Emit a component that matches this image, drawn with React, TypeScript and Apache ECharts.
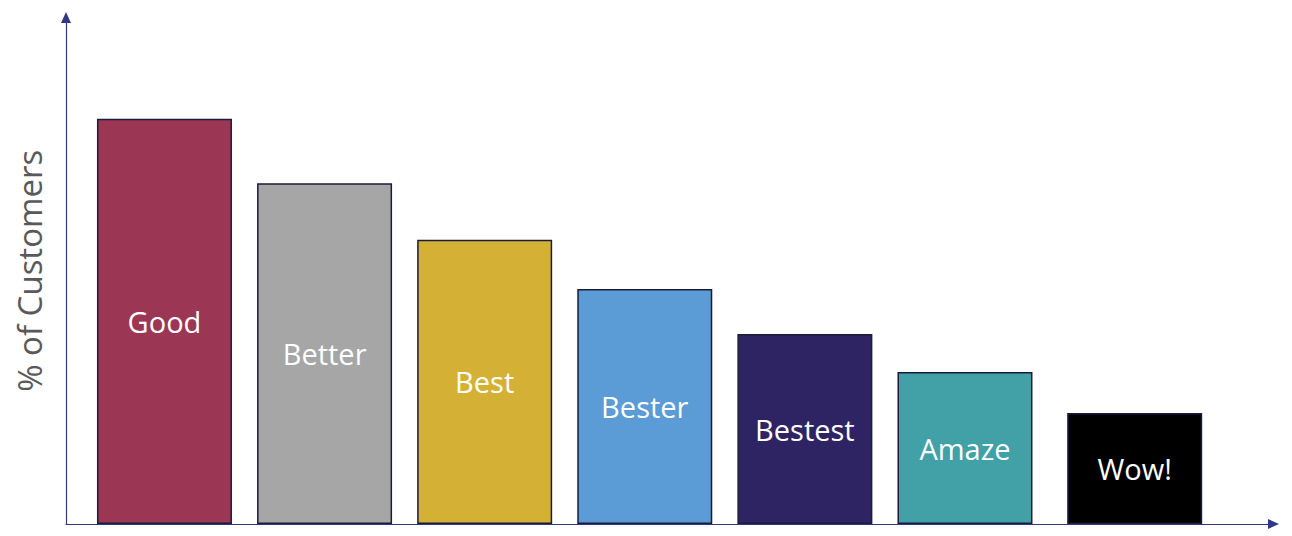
import { useEffect, useRef } from 'react';
import * as echarts from 'echarts';

// tiers, left to right
const tiers = ['Good', 'Better', 'Best', 'Bester', 'Bestest', 'Amaze', 'Wow!'];
// slot of each tier along the x axis (the last one sits a little further out)
const slots = [0, 1, 2, 3, 4, 5, 6.06];
// share of customers (%)
const shares = [80, 67.3, 56.1, 46.4, 37.5, 30, 21.9];
const tierColors = ['#9B3755', '#A6A6A6', '#D4B134', '#5B9BD6', '#2E2463', '#41A1A7', '#000000'];

const App: React.FC = () => {
  const chartRef = useRef<HTMLDivElement>(null);

  useEffect(() => {
    if (!chartRef.current) return;
    const chart = echarts.init(chartRef.current, null, { renderer: 'svg' });

    const axisLine = {
      show: true,
      onZero: false,
      symbol: ['none', 'triangle'],
      symbolSize: [10, 11],
      lineStyle: { color: '#2E3A86', width: 1.2 },
    };

    const option = {
      animation: false,
      backgroundColor: '#ffffff',
      grid: { left: 66, right: 18.5, top: 17.5, bottom: 12 },
      xAxis: {
        type: 'value' as const,
        min: -0.615,
        max: 6.927,
        axisLine,
        axisTick: { show: false },
        axisLabel: { show: false },
        splitLine: { show: false },
      },
      yAxis: {
        type: 'value' as const,
        min: 0,
        max: 100,
        name: '% of Customers',
        nameLocation: 'middle' as const,
        nameRotate: 90,
        nameGap: 20,
        nameTextStyle: { color: '#595959', fontSize: 33, fontFamily: 'Open Sans' },
        axisLine,
        axisTick: { show: false },
        axisLabel: { show: false },
        splitLine: { show: false },
      },
      series: [
        {
          type: 'bar' as const,
          barWidth: 135,
          z: 1,
          data: shares.map((v, i) => ({
            value: [slots[i], v],
            name: tiers[i],
            itemStyle: { color: tierColors[i] },
          })),
          itemStyle: { borderColor: '#1B1B3B', borderWidth: 1.5 },
          label: {
            show: true,
            position: 'inside' as const,
            formatter: (p: any) => p.name,
            color: '#ffffff',
            fontSize: 29,
            fontFamily: 'Open Sans',
          },
        },
      ],
    };

    chart.setOption(option);
    return () => chart.dispose();
  }, []);

  return (
    <div
      ref={chartRef}
      style={{ position: 'absolute', left: 0, top: 0, width: 1292, height: 536 }}
    />
  );
};

export default App;
